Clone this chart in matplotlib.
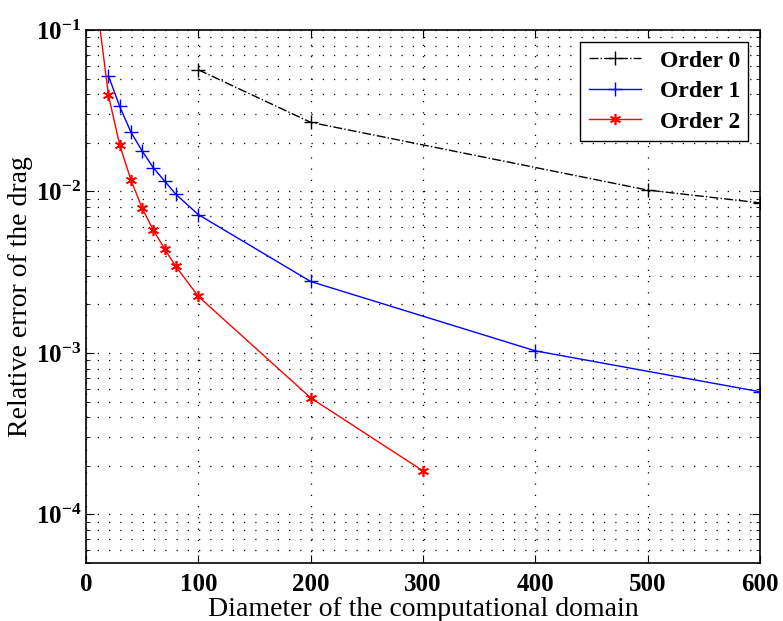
import matplotlib
matplotlib.use("Agg")
import matplotlib.pyplot as plt
from matplotlib.ticker import LogLocator, NullFormatter, FixedLocator

x0 = [100, 200, 500, 600]
y0 = [0.0567, 0.0268, 0.0102, 0.0085]

x1 = [20, 30, 40, 50, 60, 70, 80, 100, 200, 400, 600]
y1 = [0.0520, 0.0336, 0.0233, 0.0178, 0.0140, 0.0116, 0.0096, 0.00719, 0.00277, 0.00103, 0.000575]

x2 = [10, 20, 30, 40, 50, 60, 70, 80, 100, 200, 300]
y2 = [0.14, 0.0394, 0.0194, 0.0118, 0.00787, 0.00575, 0.00441, 0.00343, 0.00224, 0.000527, 0.000186]

labels = ["Order 0", "Order 1", "Order 2"]
xticks = [0, 100, 200, 300, 400, 500, 600]

plt.rcParams['font.family'] = ['Liberation Serif', 'DejaVu Serif']
plt.rcParams['mathtext.fontset'] = 'custom'
plt.rcParams['mathtext.rm'] = 'Liberation Serif'
plt.rcParams['mathtext.it'] = 'Liberation Serif:italic'
plt.rcParams['mathtext.bf'] = 'Liberation Serif:bold'
plt.rcParams['mathtext.default'] = 'bf'

fig = plt.figure(figsize=(7.83, 6.21), dpi=100)
ax = fig.add_axes([86/783, 1 - 563/621, (760 - 86)/783, (563 - 30)/621])

ax.plot(x0, y0, color='black', linestyle='-.', marker='+', markersize=10, linewidth=1, label=labels[0])
ax.plot(x1, y1, color='blue', linestyle='-', marker='+', markersize=10, linewidth=1, label=labels[1])
ax.plot(x2, y2, color='red', linestyle='-', marker=(6, 2, 0), markersize=8, markeredgewidth=1.2, linewidth=1, label=labels[2])

ax.set_yscale('log')
ax.set_xlim(0, 600)
ax.set_ylim(5e-5, 1e-1)
ax.xaxis.set_major_locator(FixedLocator(xticks))
ax.yaxis.set_major_locator(LogLocator(base=10, numticks=10))
ax.yaxis.set_minor_locator(LogLocator(base=10, subs=range(2, 10), numticks=20))
ax.yaxis.set_minor_formatter(NullFormatter())

ax.tick_params(which='both', direction='in', top=True, right=True, labelsize=18)
ax.tick_params(which='major', length=6)
ax.tick_params(which='minor', length=3)
ax.tick_params(axis='x', pad=7)
for t in ax.get_xticklabels() + ax.get_yticklabels():
    t.set_fontweight('bold')

ax.grid(True, which='major', axis='x', color='black', linestyle=(0, (1, 8)), linewidth=0.9)
ax.grid(True, which='both', axis='y', color='black', linestyle=(0, (1, 8)), linewidth=0.9)

for s in ax.spines.values():
    s.set_linewidth(1.2)

ax.set_xlabel("Diameter of the computational domain", fontsize=20, labelpad=1)
ax.set_ylabel("Relative error of the drag", fontsize=20, labelpad=2)

leg = ax.legend(loc='upper right', prop={'size': 17, 'weight': 'bold'}, fancybox=False, framealpha=1,
                edgecolor='black', handlelength=2.2, borderaxespad=0.5,
                labelspacing=0.38, borderpad=0.35)
leg.get_frame().set_linewidth(1.0)

fig.savefig("out.png", dpi=100)
